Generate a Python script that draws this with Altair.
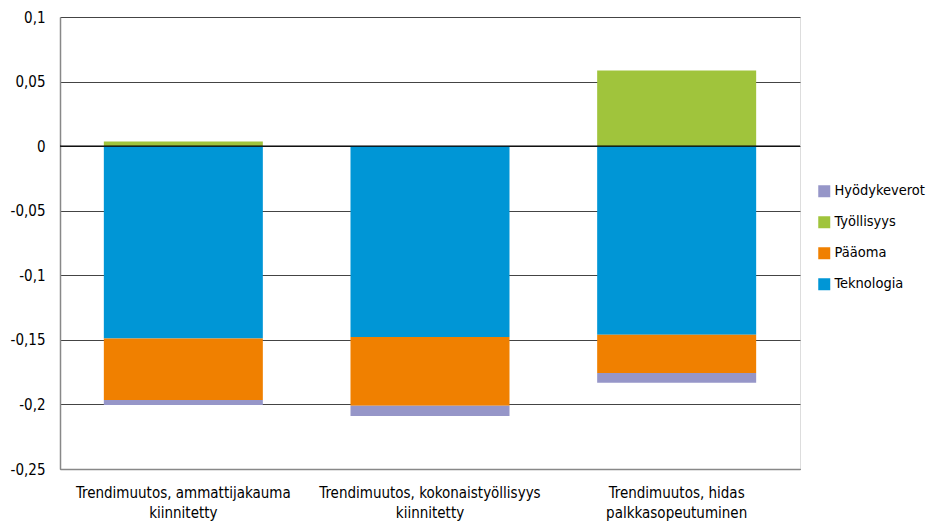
import altair as alt
import pandas as pd

categories = [
    "Trendimuutos, ammattijakauma|kiinnitetty",
    "Trendimuutos, kokonaistyöllisyys|kiinnitetty",
    "Trendimuutos, hidas|palkkasopeutuminen",
]
series = ["Hyödykeverot", "Työllisyys", "Pääoma", "Teknologia"]
colors = ["#9696C8", "#A0C43C", "#F08000", "#0096D6"]
stack_order = {"Teknologia": 1, "Pääoma": 2, "Hyödykeverot": 3, "Työllisyys": 4}

teknologia = [-0.149, -0.1477, -0.146]
paaoma = [-0.0475, -0.0533, -0.0296]
hyodykeverot = [-0.004, -0.008, -0.0077]
tyollisyys = [0.0035, 0.0, 0.0585]

values = {
    "Teknologia": teknologia,
    "Pääoma": paaoma,
    "Hyödykeverot": hyodykeverot,
    "Työllisyys": tyollisyys,
}

rows = []
for s, vals in values.items():
    for c, v in zip(categories, vals):
        rows.append({"cat": c, "series": s, "value": v, "ord": stack_order[s]})
df = pd.DataFrame(rows)

FONT = "DejaVu Sans Condensed"

bars = alt.Chart(df).mark_bar(size=159).encode(
    x=alt.X("cat:N", sort=categories, title=None,
            scale=alt.Scale(paddingInner=0.35, paddingOuter=0.175),
            axis=alt.Axis(labelExpr="split(datum.label, '|')", labelAngle=0,
                          labelFontSize=15, labelFont=FONT, labelColor="#000",
                          labelPadding=16, labelLineHeight=20, ticks=False,
                          labelLimit=0,
                          domainColor="#888", domainWidth=1.5)),
    y=alt.Y("sum(value):Q", title=None,
            scale=alt.Scale(domain=[-0.25, 0.1], nice=False),
            axis=alt.Axis(values=[-0.25, -0.2, -0.15, -0.1, -0.05, 0, 0.05, 0.1],
                          labelExpr="replace(toString(datum.value), '.', ',')",
                          labelFontSize=15, labelFont=FONT, labelColor="#000",
                          labelPadding=15, ticks=False, grid=True,
                          gridColor="#444", gridWidth=1,
                          domainColor="#888", domainWidth=1.5)),
    color=alt.Color("series:N", sort=series,
                    scale=alt.Scale(domain=series, range=colors),
                    legend=alt.Legend(title=None, orient="none", legendX=757, legendY=167,
                                      symbolType="square", symbolSize=144,
                                      symbolStrokeWidth=0, labelFontSize=14.5,
                                      labelFont=FONT, labelColor="#000",
                                      rowPadding=16, labelOffset=3)),
    order=alt.Order("ord:Q"),
)

zero = alt.Chart(pd.DataFrame({"y": [0]})).mark_rule(color="#000", strokeWidth=1.2).encode(
    y=alt.Y("y:Q")
)

chart = alt.layer(bars, zero).properties(
    width=740, height=452,
    autosize=alt.AutoSizeParams(type="none"),
    padding={"left": 52, "top": 9, "right": 127, "bottom": 54},
).configure_view(stroke=None).configure(background="white")

chart.save("out.html", embed_options={"renderer": "svg", "actions": False})
